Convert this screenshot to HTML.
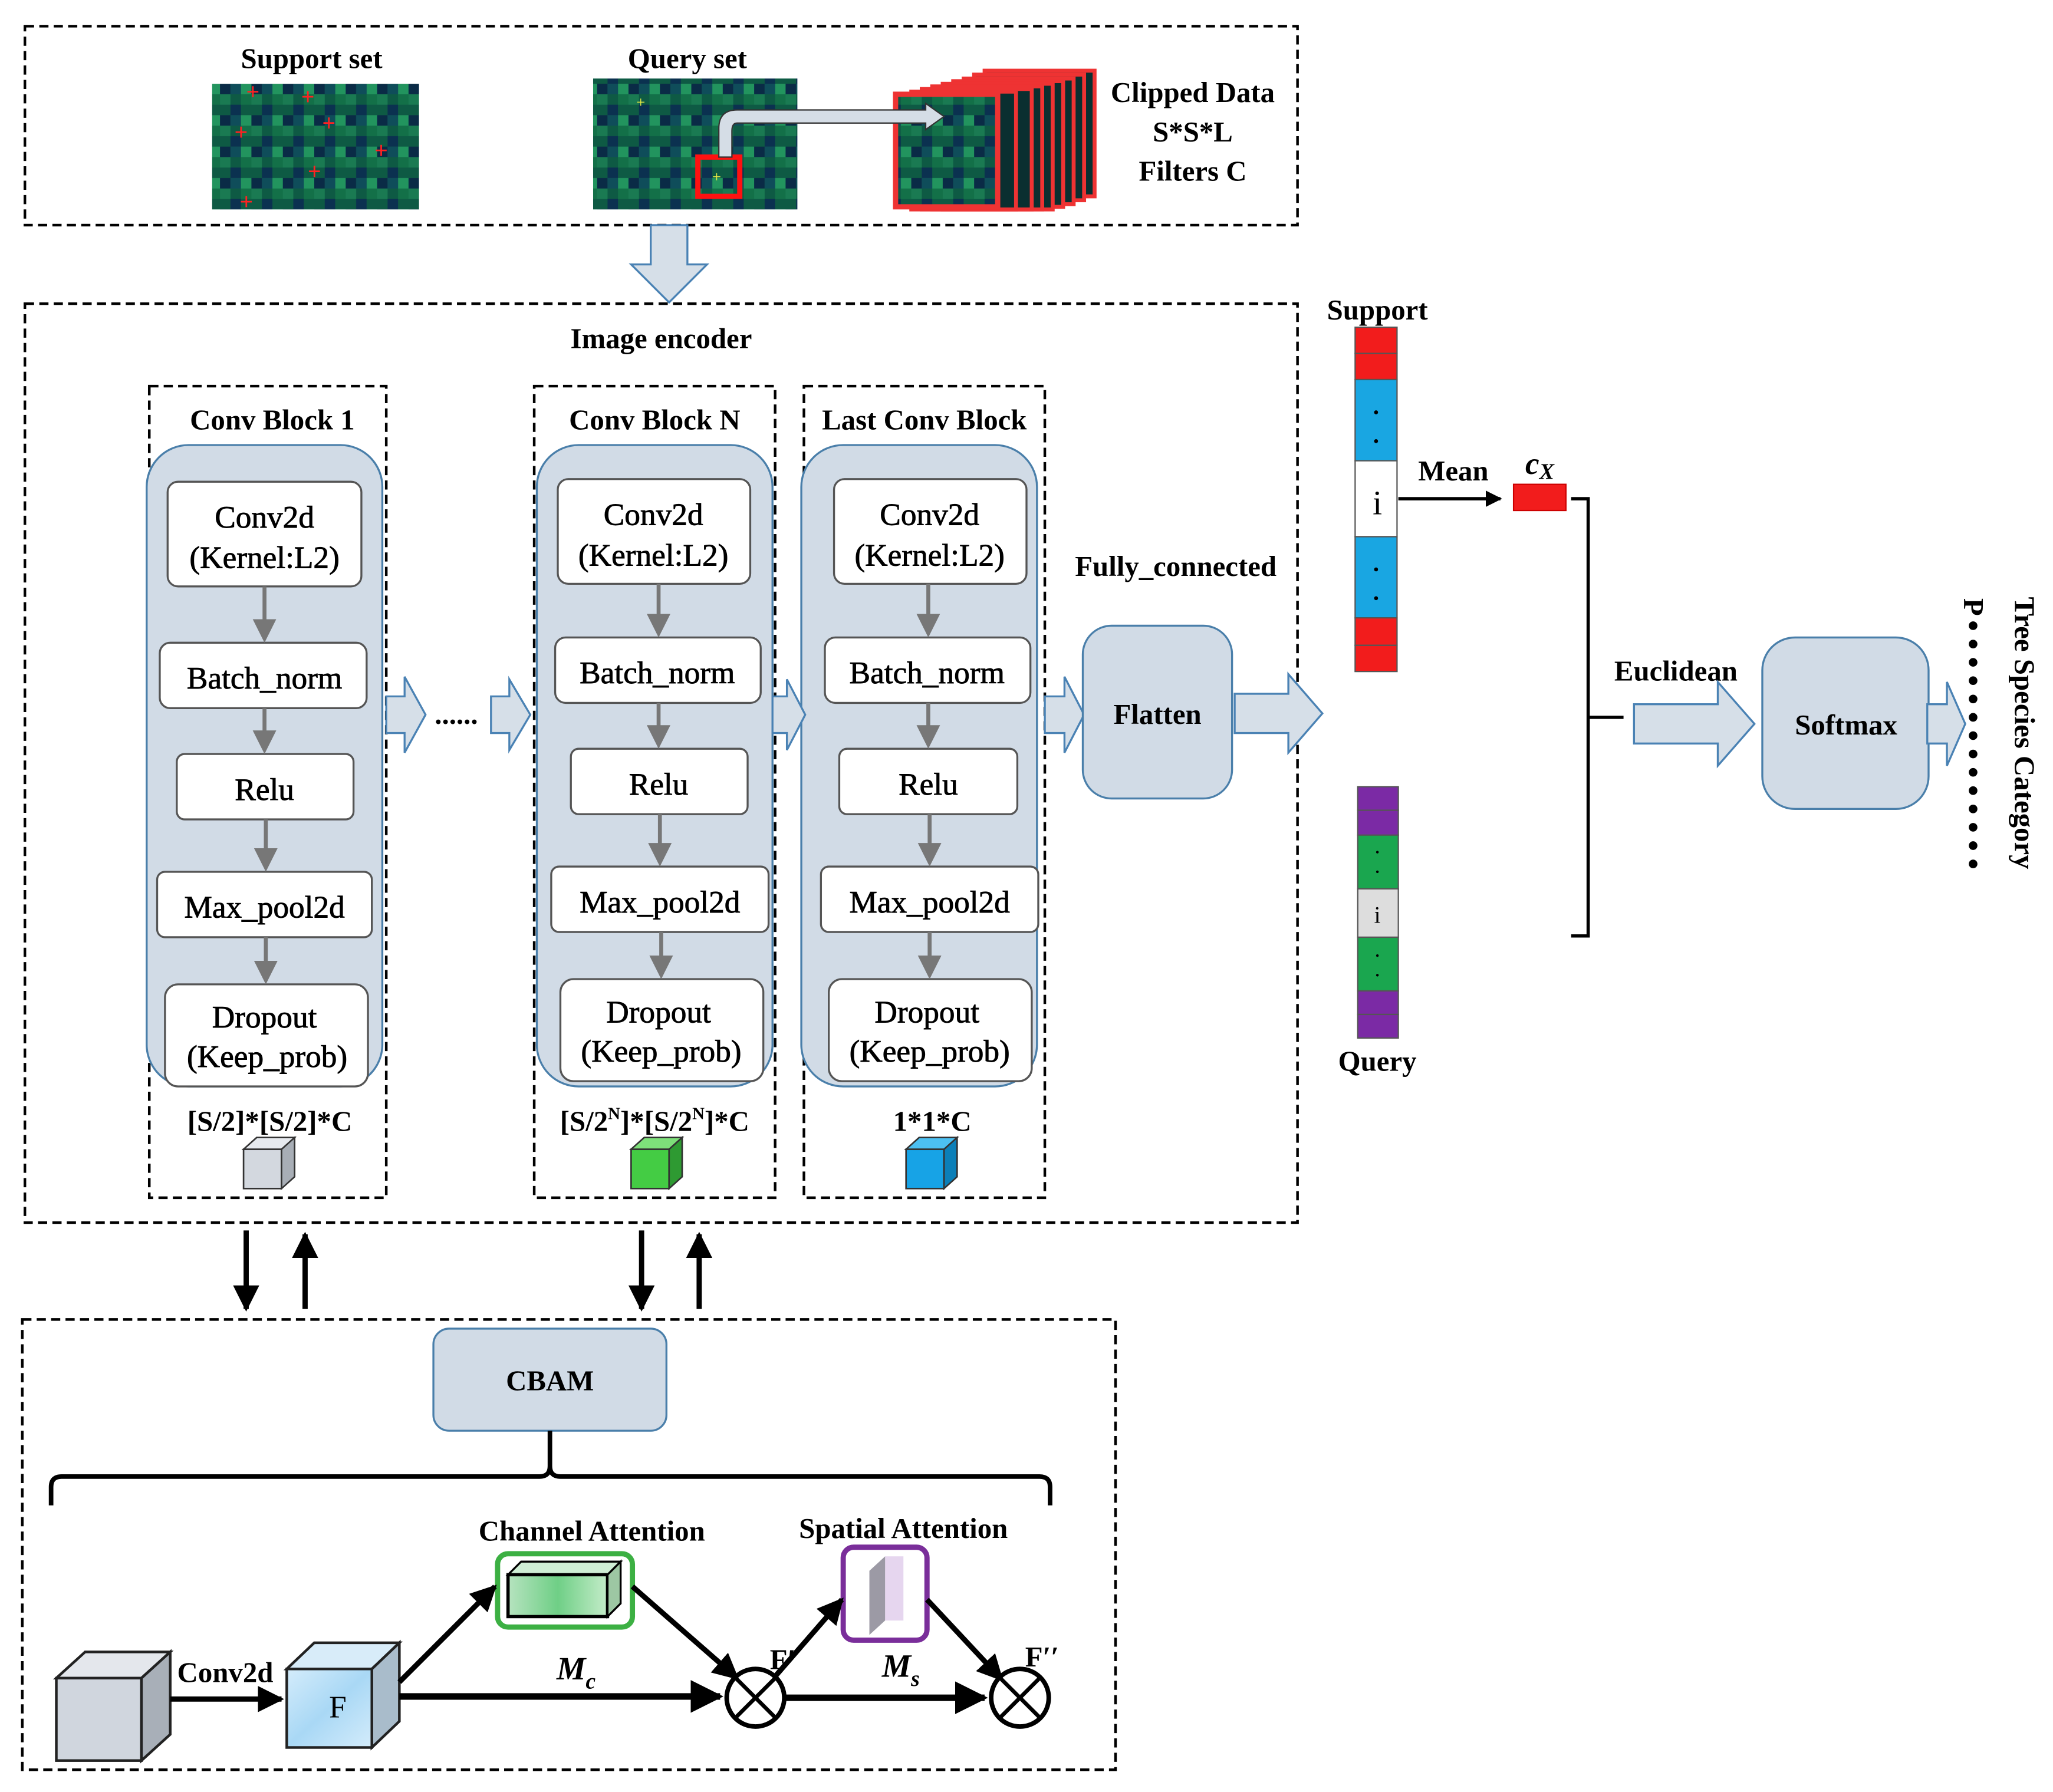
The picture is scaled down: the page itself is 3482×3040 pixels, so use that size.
<!DOCTYPE html>
<html><head><meta charset="utf-8"><style>
html,body{margin:0;padding:0;background:#fff;}
svg{display:block;}
text{font-family:"Liberation Serif",serif;}
.b{font-weight:bold;}
.n{font-size:24px;stroke:#000;stroke-width:0.4px;fill:#000;}
.t{font-size:22px;font-weight:bold;fill:#000;}
.dash{fill:none;stroke:#000;stroke-width:2;stroke-dasharray:7,4;}
.blk{fill:#d1dbe6;stroke:#4a7faa;stroke-width:1.5;}
.wb{fill:#fff;stroke:#555;stroke-width:1.5;}
.ga{stroke:#777;stroke-width:3;fill:none;}
.ba{fill:#d6dfe8;stroke:#4a82b4;stroke-width:1.5;}
</style></head><body>
<svg width="3482" height="3040" viewBox="0 0 1568 1369" xmlns="http://www.w3.org/2000/svg">
<defs>
<marker id="gh" markerWidth="6" markerHeight="6" refX="5" refY="3" orient="auto" markerUnits="strokeWidth"><path d="M0,0 L6,3 L0,6z" fill="#777"/></marker>
<marker id="kh" markerWidth="5" markerHeight="5" refX="4.5" refY="2.5" orient="auto" markerUnits="strokeWidth"><path d="M0,0 L5,2.5 L0,5z" fill="#000"/></marker>
<pattern id="sat" width="24" height="24" patternUnits="userSpaceOnUse">
<rect width="24" height="24" fill="#0e5a44"/>
<rect x="0" y="0" width="8" height="8" fill="#1a7a52"/>
<rect x="8" y="8" width="8" height="8" fill="#0b3150"/>
<rect x="16" y="0" width="8" height="8" fill="#137048"/>
<rect x="0" y="16" width="8" height="8" fill="#0a2b46"/>
<rect x="16" y="16" width="8" height="8" fill="#22945e"/>
<rect x="8" y="16" width="8" height="8" fill="#0f4d5a"/>
</pattern>
<linearGradient id="cg" x1="0" x2="1"><stop offset="0" stop-color="#b6e3bf"/><stop offset="0.5" stop-color="#6fcf86"/><stop offset="1" stop-color="#c4ecc9"/></linearGradient>
<linearGradient id="fg" x1="0" x2="1" y1="0" y2="1"><stop offset="0" stop-color="#d4ecfb"/><stop offset="0.5" stop-color="#a9d8f5"/><stop offset="1" stop-color="#d4ecfb"/></linearGradient>
</defs>

<!-- top box -->
<rect class="dash" x="19" y="20" width="972" height="152"/>
<text class="t" x="238" y="52" text-anchor="middle">Support set</text>
<text class="t" x="525" y="52" text-anchor="middle">Query set</text>
<rect x="162" y="64" width="158" height="96" fill="url(#sat)"/>
<g font-size="18" font-family="Liberation Sans" font-weight="bold" style="fill:#f22">
<text x="188" y="76" style="fill:#f22">+</text><text x="230" y="80" style="fill:#f22">+</text><text x="246" y="100" style="fill:#f22">+</text><text x="179" y="107" style="fill:#f22">+</text><text x="286" y="121" style="fill:#f22">+</text><text x="235" y="137" style="fill:#f22">+</text><text x="183" y="160" style="fill:#f22">+</text></g>
<rect x="453" y="60" width="156" height="100" fill="url(#sat)"/>
<text x="486" y="82" font-size="12" style="fill:#ee4">+</text>
<!-- clipped stack -->
<g stroke="#e33" stroke-width="3" fill="#0a2f30">
<rect x="752" y="54" width="84" height="96"/>
<rect x="744" y="57" width="84" height="96"/>
<rect x="736" y="60" width="84" height="96"/>
<rect x="728" y="62" width="84" height="96"/>
<rect x="720" y="64" width="84" height="96"/>
<rect x="712" y="66" width="84" height="94"/>
<rect x="704" y="68" width="84" height="92"/>
<rect x="696" y="70" width="80" height="90"/>
</g>
<rect x="684" y="72" width="78" height="86" fill="url(#sat)" stroke="#e33" stroke-width="4"/>
<rect x="533" y="120" width="32" height="30" fill="none" stroke="#f11" stroke-width="4"/>
<text x="544" y="139" font-size="12" style="fill:#ee4">+</text>
<path d="M549,120 L549,98 Q549,84 563,84 L707,84 L707,79 L721,89 L707,99 L707,94 L563,94 Q559,94 559,100 L559,120 Z" fill="#d5dde6" stroke="#333" stroke-width="1"/>
<text class="t" x="911" y="78" text-anchor="middle">Clipped Data</text>
<text class="t" x="911" y="108" text-anchor="middle">S*S*L</text>
<text class="t" x="911" y="138" text-anchor="middle">Filters  C</text>

<!-- down arrow -->
<path d="M497,172 L525,172 L525,202 L540,202 L511,231 L482,202 L497,202 Z" class="ba"/>

<!-- image encoder -->
<rect class="dash" x="19" y="232" width="972" height="702"/>
<text class="t" x="505" y="266" text-anchor="middle">Image encoder</text>

<!-- Block 1 -->
<rect class="dash" x="114" y="295" width="181" height="620"/>
<text class="t" x="208" y="328" text-anchor="middle">Conv Block 1</text>
<rect class="blk" x="112" y="340" width="180" height="490" rx="32"/>
<rect class="wb" x="128" y="368" width="148" height="80" rx="8"/>
<text class="n" x="202" y="403" text-anchor="middle">Conv2d</text><text class="n" x="202" y="434" text-anchor="middle">(Kernel:L2)</text>
<rect class="wb" x="122" y="491" width="158" height="50" rx="8"/><text class="n" x="202" y="526" text-anchor="middle">Batch_norm</text>
<rect class="wb" x="135" y="576" width="135" height="50" rx="6"/><text class="n" x="202" y="611" text-anchor="middle">Relu</text>
<rect class="wb" x="120" y="666" width="164" height="50" rx="6"/><text class="n" x="202" y="701" text-anchor="middle">Max_pool2d</text>
<rect class="wb" x="126" y="752" width="155" height="78" rx="10"/>
<text class="n" x="202" y="785" text-anchor="middle">Dropout</text><text class="n" x="204" y="815" text-anchor="middle">(Keep_prob)</text>
<g class="ga" marker-end="url(#gh)"><line x1="202" y1="448" x2="202" y2="488"/><line x1="202" y1="541" x2="202" y2="573"/><line x1="203" y1="626" x2="203" y2="663"/><line x1="203" y1="716" x2="203" y2="749"/></g>
<text class="t" x="206" y="864" text-anchor="middle">[S/2]*[S/2]*C</text>
<g stroke="#333" stroke-width="1.2"><path d="M186,878 L215,878 L225,869 L196,869 Z" fill="#e6e9ee"/><rect x="186" y="878" width="29" height="30" fill="#d3d8df"/><path d="M215,878 L225,869 L225,899 L215,908 Z" fill="#a8aeb6"/></g>

<!-- Block N -->
<rect class="dash" x="408" y="295" width="184" height="620"/>
<text class="t" x="500" y="328" text-anchor="middle">Conv Block N</text>
<rect class="blk" x="410" y="340" width="180" height="490" rx="32"/>
<rect class="wb" x="426" y="366" width="147" height="80" rx="8"/>
<text class="n" x="499" y="401" text-anchor="middle">Conv2d</text><text class="n" x="499" y="432" text-anchor="middle">(Kernel:L2)</text>
<rect class="wb" x="424" y="487" width="157" height="50" rx="8"/><text class="n" x="502" y="522" text-anchor="middle">Batch_norm</text>
<rect class="wb" x="436" y="572" width="135" height="50" rx="6"/><text class="n" x="503" y="607" text-anchor="middle">Relu</text>
<rect class="wb" x="421" y="662" width="166" height="50" rx="6"/><text class="n" x="504" y="697" text-anchor="middle">Max_pool2d</text>
<rect class="wb" x="428" y="748" width="155" height="78" rx="10"/>
<text class="n" x="503" y="781" text-anchor="middle">Dropout</text><text class="n" x="505" y="811" text-anchor="middle">(Keep_prob)</text>
<g class="ga" marker-end="url(#gh)"><line x1="503" y1="446" x2="503" y2="484"/><line x1="503" y1="537" x2="503" y2="569"/><line x1="504" y1="622" x2="504" y2="659"/><line x1="505" y1="712" x2="505" y2="745"/></g>
<text class="t" x="500" y="864" text-anchor="middle">[S/2<tspan font-size="13" dy="-9">N</tspan><tspan dy="9">]*[S/2</tspan><tspan font-size="13" dy="-9">N</tspan><tspan dy="9">]*C</tspan></text>
<g stroke="#333" stroke-width="1.2"><path d="M482,878 L511,878 L521,869 L492,869 Z" fill="#7ee07a"/><rect x="482" y="878" width="29" height="30" fill="#44cc44"/><path d="M511,878 L521,869 L521,899 L511,908 Z" fill="#2e9a32"/></g>

<!-- Last block -->
<rect class="dash" x="614" y="295" width="184" height="620"/>
<text class="t" x="706" y="328" text-anchor="middle">Last Conv Block</text>
<rect class="blk" x="612" y="340" width="180" height="490" rx="32"/>
<rect class="wb" x="637" y="366" width="147" height="80" rx="8"/>
<text class="n" x="710" y="401" text-anchor="middle">Conv2d</text><text class="n" x="710" y="432" text-anchor="middle">(Kernel:L2)</text>
<rect class="wb" x="630" y="487" width="157" height="50" rx="8"/><text class="n" x="708" y="522" text-anchor="middle">Batch_norm</text>
<rect class="wb" x="641" y="572" width="136" height="50" rx="6"/><text class="n" x="709" y="607" text-anchor="middle">Relu</text>
<rect class="wb" x="627" y="662" width="166" height="50" rx="6"/><text class="n" x="710" y="697" text-anchor="middle">Max_pool2d</text>
<rect class="wb" x="633" y="748" width="155" height="78" rx="10"/>
<text class="n" x="708" y="781" text-anchor="middle">Dropout</text><text class="n" x="710" y="811" text-anchor="middle">(Keep_prob)</text>
<g class="ga" marker-end="url(#gh)"><line x1="709" y1="446" x2="709" y2="484"/><line x1="709" y1="537" x2="709" y2="569"/><line x1="710" y1="622" x2="710" y2="659"/><line x1="710" y1="712" x2="710" y2="745"/></g>
<text class="t" x="712" y="864" text-anchor="middle">1*1*C</text>
<g stroke="#333" stroke-width="1.2"><path d="M692,878 L721,878 L731,869 L702,869 Z" fill="#4cc0f2"/><rect x="692" y="878" width="29" height="30" fill="#17a3e6"/><path d="M721,878 L731,869 L731,899 L721,908 Z" fill="#0b7fb8"/></g>

<!-- horizontal block arrows -->
<path class="ba" d="M295,532 L309,532 L309,517 L325,546 L309,575 L309,560 L295,560 Z"/>
<text class="t" x="332" y="553" font-size="26">......</text>
<path class="ba" d="M375,532 L389,532 L389,519 L405,546 L389,573 L389,560 L375,560 Z"/>
<path class="ba" d="M590,532 L601,532 L601,519 L615,546 L601,573 L601,560 L590,560 Z"/>
<path class="ba" d="M798,532 L813,532 L813,517 L828,546 L813,575 L813,560 L798,560 Z"/>
<text class="t" x="898" y="440" text-anchor="middle">Fully_connected</text>
<rect class="blk" x="827" y="478" width="114" height="132" rx="22"/>
<text class="t" x="884" y="553" text-anchor="middle">Flatten</text>
<path class="ba" d="M943,530 L984,530 L984,515 L1010,545 L984,575 L984,560 L943,560 Z"/>

<!-- support vector -->
<text class="t" x="1052" y="244" text-anchor="middle">Support</text>
<g stroke="#555" stroke-width="1">
<rect x="1035" y="250" width="32" height="20" fill="#f21c1c"/><rect x="1035" y="270" width="32" height="20" fill="#f21c1c"/>
<rect x="1035" y="290" width="32" height="62" fill="#19a6e2"/>
<rect x="1035" y="352" width="32" height="58" fill="#fff"/>
<rect x="1035" y="410" width="32" height="62" fill="#19a6e2"/>
<rect x="1035" y="472" width="32" height="21" fill="#f21c1c"/><rect x="1035" y="493" width="32" height="20" fill="#f21c1c"/>
</g>
<g fill="#000"><circle cx="1051" cy="315" r="1.5"/><circle cx="1051" cy="337" r="1.5"/><circle cx="1051" cy="435" r="1.5"/><circle cx="1051" cy="457" r="1.5"/></g>
<text x="1052" y="393" font-size="26" text-anchor="middle" fill="#000">i</text>
<line x1="1068" y1="381" x2="1146" y2="381" stroke="#000" stroke-width="2.5" marker-end="url(#kh)"/>
<text class="t" x="1110" y="367" text-anchor="middle">Mean</text>
<rect x="1156" y="370" width="40" height="20" fill="#f21c1c" stroke="#c00" stroke-width="1"/>
<text x="1165" y="362" font-size="24" font-style="italic" font-weight="bold" fill="#000">c<tspan font-size="17" dy="4">X</tspan></text>
<path d="M1200,381 L1213,381 L1213,715 L1200,715 M1213,548 L1240,548" fill="none" stroke="#000" stroke-width="2.5"/>

<!-- query vector -->
<g stroke="#555" stroke-width="1">
<rect x="1037" y="601" width="31" height="18" fill="#7b2aa5"/><rect x="1037" y="619" width="31" height="19" fill="#7b2aa5"/>
<rect x="1037" y="638" width="31" height="41" fill="#1aa64f"/>
<rect x="1037" y="679" width="31" height="37" fill="#ddd"/>
<rect x="1037" y="716" width="31" height="41" fill="#1aa64f"/>
<rect x="1037" y="757" width="31" height="18" fill="#7b2aa5"/><rect x="1037" y="775" width="31" height="18" fill="#7b2aa5"/>
</g>
<g fill="#000"><circle cx="1052" cy="651" r="1"/><circle cx="1052" cy="666" r="1"/><circle cx="1052" cy="730" r="1"/><circle cx="1052" cy="745" r="1"/></g>
<text x="1052" y="705" font-size="18" text-anchor="middle" fill="#000">i</text>
<text class="t" x="1052" y="818" text-anchor="middle">Query</text>

<text class="t" x="1280" y="520" text-anchor="middle">Euclidean</text>
<path class="ba" d="M1248,538 L1312,538 L1312,521 L1340,553 L1312,585 L1312,568 L1248,568 Z"/>
<rect class="blk" x="1346" y="487" width="127" height="131" rx="25"/>
<text class="t" x="1410" y="561" text-anchor="middle">Softmax</text>
<path class="ba" d="M1472,538 L1487,538 L1487,521 L1501,553 L1487,585 L1487,568 L1472,568 Z"/>
<text class="t" transform="translate(1500,457) rotate(90)">P</text>
<g fill="#000">
<circle cx="1507" cy="478" r="3.3"/><circle cx="1507" cy="492" r="3.3"/><circle cx="1507" cy="506" r="3.3"/><circle cx="1507" cy="520" r="3.3"/><circle cx="1507" cy="534" r="3.3"/><circle cx="1507" cy="548" r="3.3"/><circle cx="1507" cy="562" r="3.3"/><circle cx="1507" cy="576" r="3.3"/><circle cx="1507" cy="590" r="3.3"/><circle cx="1507" cy="604" r="3.3"/><circle cx="1507" cy="618" r="3.3"/><circle cx="1507" cy="632" r="3.3"/><circle cx="1507" cy="646" r="3.3"/><circle cx="1507" cy="660" r="3.3"/>
</g>
<text class="t" transform="translate(1539,560) rotate(90)" text-anchor="middle">Tree Species Category</text>

<!-- vertical arrows -->
<g stroke="#000" stroke-width="4" marker-end="url(#kh)">
<line x1="188" y1="940" x2="188" y2="1000"/><line x1="233" y1="1000" x2="233" y2="943"/>
<line x1="490" y1="940" x2="490" y2="1000"/><line x1="534" y1="1000" x2="534" y2="943"/>
</g>

<!-- CBAM box -->
<rect class="dash" x="17" y="1008" width="835" height="344"/>
<rect class="blk" x="331" y="1015" width="178" height="78" rx="12"/>
<text class="t" x="420" y="1062" text-anchor="middle">CBAM</text>
<path d="M39,1150 L39,1136 Q39,1128 47,1128 L412,1128 Q420,1128 420,1120 L420,1093 M420,1120 Q420,1128 428,1128 L794,1128 Q802,1128 802,1136 L802,1150" fill="none" stroke="#000" stroke-width="3.5"/>
<text class="t" x="452" y="1177" text-anchor="middle" font-size="25">Channel Attention</text>
<text class="t" x="690" y="1175" text-anchor="middle" font-size="25">Spatial Attention</text>
<rect x="380" y="1187" width="103" height="56" rx="8" fill="#fff" stroke="#3cb043" stroke-width="4"/>
<g stroke="#000" stroke-width="1.5"><path d="M388,1203 L464,1203 L474,1193 L398,1193 Z" fill="#cfeed5"/><rect x="388" y="1203" width="76" height="32" fill="url(#cg)" stroke-width="2.5"/><path d="M464,1203 L474,1193 L474,1225 L464,1235 Z" fill="#9dc7a3"/></g>
<rect x="644" y="1182" width="64" height="71" rx="8" fill="#fff" stroke="#7a2e9a" stroke-width="4"/>
<path d="M676,1189 L690,1189 L690,1238 L676,1238 Z" fill="#e6d6ef"/><path d="M664,1200 L664,1249 L676,1238 L676,1189Z" fill="#9c9aa5"/>
<!-- cubes -->
<g stroke="#222" stroke-width="2"><path d="M43,1282 L108,1282 L130,1262 L65,1262 Z" fill="#e4e7ec"/><rect x="43" y="1282" width="65" height="63" fill="#d0d6de"/><path d="M108,1282 L130,1262 L130,1325 L108,1345 Z" fill="#a8afb8"/></g>
<text class="t" x="172" y="1285" text-anchor="middle" font-size="23">Conv2d</text>
<line x1="130" y1="1298" x2="215" y2="1298" stroke="#000" stroke-width="4" marker-end="url(#kh)"/>
<g stroke="#222" stroke-width="2"><path d="M219,1275 L284,1275 L305,1255 L240,1255 Z" fill="#d8ecf9"/><rect x="219" y="1275" width="65" height="60" fill="url(#fg)"/><path d="M284,1275 L305,1255 L305,1315 L284,1335 Z" fill="#a9bccb"/></g>
<text x="258" y="1312" font-size="24" text-anchor="middle" fill="#000">F</text>
<g stroke="#000" stroke-width="5" fill="none" marker-end="url(#kh)">
<line x1="305" y1="1296" x2="550" y2="1296"/>
<line x1="600" y1="1297" x2="752" y2="1297"/>
</g>
<g stroke="#000" stroke-width="4" fill="none" marker-end="url(#kh)">
<line x1="305" y1="1285" x2="378" y2="1212"/>
<line x1="483" y1="1212" x2="563" y2="1282"/>
<line x1="590" y1="1283" x2="643" y2="1222"/>
<line x1="708" y1="1222" x2="765" y2="1283"/>
</g>
<g stroke="#000" stroke-width="3.5" fill="#fff"><circle cx="577" cy="1297" r="22"/><circle cx="779" cy="1297" r="22"/></g>
<path d="M561,1281 L593,1313 M593,1281 L561,1313 M763,1281 L795,1313 M795,1281 L763,1313" stroke="#000" stroke-width="3"/>
<text x="440" y="1283" font-size="25" font-style="italic" font-weight="bold" text-anchor="middle" fill="#000">M<tspan font-size="17" dy="7">c</tspan></text>
<text x="688" y="1281" font-size="25" font-style="italic" font-weight="bold" text-anchor="middle" fill="#000">M<tspan font-size="17" dy="7">s</tspan></text>
<text class="t" x="588" y="1275" font-size="23">F′</text>
<text class="t" x="783" y="1273" font-size="23">F′′</text>
</svg>
</body></html>
